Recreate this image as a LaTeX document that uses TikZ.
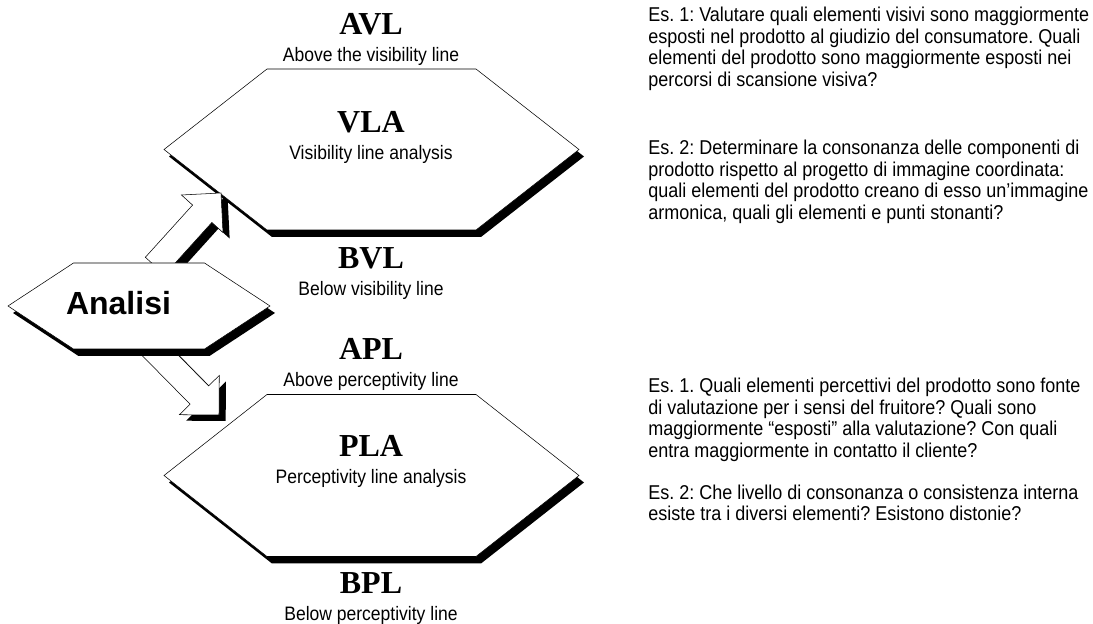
\documentclass[tikz,border=0pt]{standalone}
\usepackage{fontspec}
\setmainfont{Liberation Sans}
\newfontfamily\serifbold{Liberation Serif}
\newfontfamily\narrowfont{Liberation Sans}[FakeStretch=0.9]
\usetikzlibrary{calc}
\frenchspacing

\tikzset{
  linecode/.style={font=\serifbold\bfseries\fontsize{24}{26}\selectfont, anchor=base, inner sep=0pt},
  linename/.style={font=\narrowfont\fontsize{14.6}{17}\selectfont, anchor=base, inner sep=0pt},
  esnote/.style={font=\narrowfont\fontsize{15}{16.1}\selectfont, anchor=base west, align=left, inner sep=0pt},
}

% hexagon with a drop shadow: centre, half width, half top width, half height
\newcommand{\hexbox}[4]{%
  \begin{scope}[shift={(#1)}]
    \fill[shift={(5,-7)}] (-#2,0) -- (-#3,#4) -- (#3,#4) -- (#2,0) -- (#3,-#4) -- (-#3,-#4) -- cycle;
    \draw[fill=white] (-#2,0) -- (-#3,#4) -- (#3,#4) -- (#2,0) -- (#3,-#4) -- (-#3,-#4) -- cycle;
  \end{scope}}

% block arrow with a drop shadow: tail, tip
\newcommand{\blockarrow}[2]{%
  \coordinate (head) at ($(#2)!21pt!(#1)$);
  \def\arrowshape{($(#1)!9.75pt!90:(#2)$) -- ($(head)!9.75pt!90:(#2)$) -- ($(head)!21pt!90:(#2)$) -- (#2)
    -- ($(head)!21pt!-90:(#2)$) -- ($(head)!9.75pt!-90:(#2)$) -- ($(#1)!9.75pt!-90:(#2)$) -- cycle}%
  \fill[transform canvas={shift={(5pt,-4.5pt)}}] \arrowshape;
  \draw[fill=white] \arrowshape;}

\begin{document}
\begin{tikzpicture}[x=0.75pt,y=0.75pt]
\useasboundingbox (0,0) rectangle (1093,624);

\coordinate (vla) at (371.5,474.5);
\coordinate (pla) at (371.5,148.5);
\coordinate (an) at (139,318);
\coordinate (an-up) at (155,358);
\coordinate (an-down) at (150,279);
\coordinate (vla-in) at (221,431);
\coordinate (pla-in) at (219,209);

\hexbox{vla}{207.5}{104.5}{80.5}
\hexbox{pla}{207.5}{104.5}{81}

\blockarrow{an-up}{vla-in}
\blockarrow{an-down}{pla-in}

\hexbox{an}{131}{65.5}{43}
\node[font=\bfseries\fontsize{24}{26}\selectfont, anchor=base, inner sep=0pt] (analisi) at (118.5,309) {Analisi};

\foreach \code/\name/\y in {AVL/Above the visibility line/589, VLA/Visibility line analysis/491,
    BVL/Below visibility line/355, APL/Above perceptivity line/264,
    PLA/Perceptivity line analysis/167, BPL/Below perceptivity line/30}
{
  \node[linecode] (\code) at (371,\y) {\code};
  \node[linename] (\code-name) at (371,\y-27) {\name};
}

% anchored at the baseline of the last line
\node[esnote] (es1v) at (648,537.6) {Es. 1: Valutare quali elementi visivi sono maggiormente\\
  esposti nel prodotto al giudizio del consumatore. Quali\\
  elementi del prodotto sono maggiormente esposti nei\\
  percorsi di scansione visiva?};
\node[esnote] (es2v) at (648,404.6) {Es. 2: Determinare la consonanza delle componenti di\\
  prodotto rispetto al progetto di immagine coordinata:\\
  quali elementi del prodotto creano di esso un’immagine\\
  armonica, quali gli elementi e punti stonanti?};
\node[esnote] (es1p) at (648,166.6) {Es. 1. Quali elementi percettivi del prodotto sono fonte\\
  di valutazione per i sensi del fruitore? Quali sono\\
  maggiormente “esposti” alla valutazione? Con quali\\
  entra maggiormente in contatto il cliente?};
\node[esnote] (es2p) at (648,103.5) {Es. 2: Che livello di consonanza o consistenza interna\\
  esiste tra i diversi elementi? Esistono distonie?};

\end{tikzpicture}
\end{document}
